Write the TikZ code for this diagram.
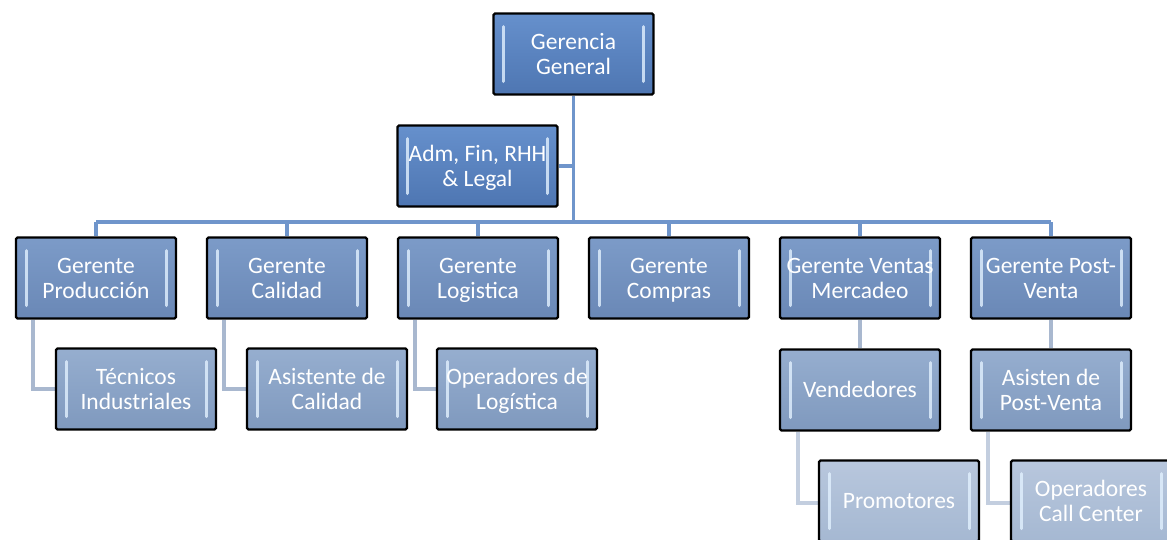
\documentclass[tikz,border=0pt]{standalone}
\usepackage{fontspec}
\setmainfont{Carlito}
\usetikzlibrary{calc,backgrounds}
\definecolor{lineA}{HTML}{6F95CB}
\definecolor{lineB}{HTML}{A9B8CF}
\definecolor{lineC}{HTML}{C3CEDF}
\definecolor{fillAtop}{HTML}{6690CC}
\definecolor{fillAbot}{HTML}{4E76B2}
\definecolor{fillBtop}{HTML}{7C9BC8}
\definecolor{fillBbot}{HTML}{6A88B6}
\definecolor{fillCtop}{HTML}{96AECF}
\definecolor{fillCbot}{HTML}{7F99BE}
\definecolor{fillDtop}{HTML}{B8C7DD}
\definecolor{fillDbot}{HTML}{A5B8D2}
\definecolor{hilite}{HTML}{E2F1FF}
\newcommand\orgln[1]{\rule[-5pt]{0pt}{25pt}#1}
\tikzset{
  orgbox/.style={draw=black, line width=2.2pt, rounded corners=1.5pt,
    minimum width=160pt, minimum height=81pt, inner sep=0pt,
    align=center, text=white,
    font=\fontsize{23.5}{25}\selectfont,
    path picture={
      \draw[hilite, opacity=0.8, line width=3pt, line cap=round]
        ([xshift=10pt,yshift=-13pt]path picture bounding box.north west) --
        ([xshift=10pt,yshift=13pt]path picture bounding box.south west);
      \draw[hilite, opacity=0.8, line width=3pt, line cap=round]
        ([xshift=-10pt,yshift=-13pt]path picture bounding box.north east) --
        ([xshift=-10pt,yshift=13pt]path picture bounding box.south east);
    }},
  lvA/.style={orgbox, top color=fillAtop, bottom color=fillAbot},
  lvB/.style={orgbox, top color=fillBtop, bottom color=fillBbot},
  lvC/.style={orgbox, top color=fillCtop, bottom color=fillCbot},
  lvD/.style={orgbox, top color=fillDtop, bottom color=fillDbot},
  conA/.style={draw=lineA, line width=3.5pt},
  conB/.style={draw=lineB, line width=3.5pt},
  conC/.style={draw=lineC, line width=3.5pt},
}
\begin{document}
\begin{tikzpicture}[x=1pt,y=-1pt]
\useasboundingbox (0,0) rectangle (1167,539);
\clip (0,0) rectangle (1167,539);

% nodes
\node[lvA] (gg) at (573.5,54) {\orgln{Gerencia}\\\orgln{General}};
\node[lvA] (adm) at (477.5,166) {\orgln{Adm, Fin, RHH}\\\orgln{\& Legal}};

\node[lvB] (prod) at (96,278) {\orgln{Gerente}\\\orgln{Producción}};
\node[lvB] (cal) at (287,278) {\orgln{Gerente}\\\orgln{Calidad}};
\node[lvB] (log) at (478,278) {\orgln{Gerente}\\\orgln{Logistica}};
\node[lvB] (comp) at (669,278) {\orgln{Gerente}\\\orgln{Compras}};
\node[lvB] (vent) at (860,278) {\orgln{Gerente Ventas}\\\orgln{Mercadeo}};
\node[lvB] (post) at (1051,278) {\orgln{Gerente Post-}\\\orgln{Venta}};

\node[lvC] (tec) at (136,389) {\orgln{Técnicos}\\\orgln{Industriales}};
\node[lvC] (asc) at (327,389) {\orgln{Asistente de}\\\orgln{Calidad}};
\node[lvC] (opl) at (517,389) {\orgln{Operadores de}\\\orgln{Logística}};
\node[lvC] (vend) at (860,390) {\orgln{Vendedores}};
\node[lvC] (asp) at (1051,390) {\orgln{Asisten de}\\\orgln{Post-Venta}};

\node[lvD] (prom) at (899,501) {\orgln{Promotores}};
\node[lvD] (callc) at (1091,501) {\orgln{Operadores}\\\orgln{Call Center}};

\coordinate (busy) at (0,222);
\coordinate (bus) at (gg.south |- busy);
\coordinate (admj) at (gg.south |- adm.east);

\begin{scope}[on background layer]
  % level 1
  \draw[conA] (gg.south) -- (bus);
  \draw[conA] (adm.east) -- (admj);
  \draw[conA] (prod.north |- busy) -- (post.north |- busy);
  \foreach \n in {prod,cal,log,comp,vent,post}
    \draw[conA] (\n.north |- busy) -- (\n.north);
  % level 2
  \foreach \p/\c in {prod/tec,cal/asc,log/opl}
    \draw[conB] ([xshift=18pt]\p.south west) |- (\c.west);
  \draw[conB] (vent.south) -- (vend.north);
  \draw[conB] (post.south) -- (asp.north);
  % level 3
  \draw[conC] ([xshift=19pt]vend.south west) |- ([yshift=-2pt]prom.west);
  \draw[conC] ([xshift=18pt]asp.south west) |- ([yshift=-2pt]callc.west);
\end{scope}
\end{tikzpicture}
\end{document}
